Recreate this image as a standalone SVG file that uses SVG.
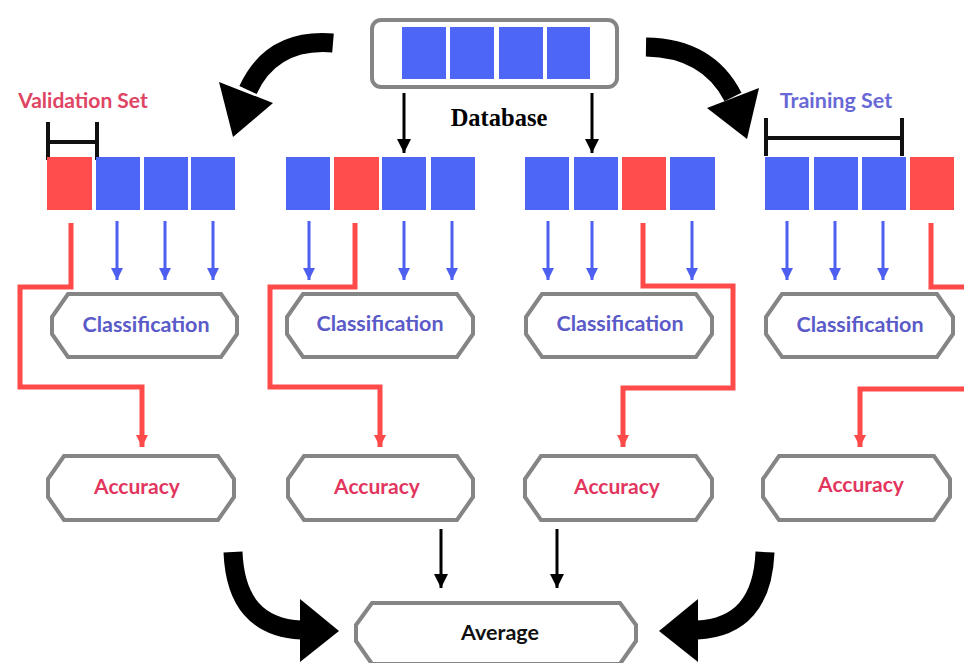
<svg xmlns="http://www.w3.org/2000/svg" width="964" height="663" viewBox="0 0 964 663">
<defs>
<style>
.blue{fill:#4d66f5}
.red{fill:#ff4d4d}
.box{fill:#fff;stroke:#858585;stroke-width:4}
.cls{font-family:Lato,"Noto Sans",sans-serif;font-size:21.5px;font-weight:bold;fill:#5a5ac8;text-anchor:middle}
.acc{font-family:Lato,"Noto Sans",sans-serif;font-size:21px;font-weight:bold;fill:#e2365e;text-anchor:middle}
.barr{stroke:#4d5ff0;stroke-width:3;fill:none}
.rline{stroke:#ff4a4a;stroke-width:5;fill:none}
.kline{stroke:#000;stroke-width:3;fill:none}
.big{stroke:#000;stroke-width:19;fill:none}
</style>
<marker id="mb" markerUnits="userSpaceOnUse" markerWidth="14" markerHeight="14" refX="12" refY="7" orient="auto" viewBox="0 0 14 14"><path d="M0 1 L12 7 L0 13 Z" fill="#4d5ff0"/></marker>
<marker id="mr" markerUnits="userSpaceOnUse" markerWidth="14" markerHeight="14" refX="12" refY="7" orient="auto" viewBox="0 0 14 14"><path d="M0 1 L12 7 L0 13 Z" fill="#ff4a4a"/></marker>
<marker id="mk" markerUnits="userSpaceOnUse" markerWidth="16" markerHeight="16" refX="14" refY="8" orient="auto" viewBox="0 0 16 16"><path d="M0 1 L14 8 L0 15 Z" fill="#000"/></marker>
</defs>
<rect width="964" height="663" fill="#fff"/>

<g id="database">
<rect x="372" y="20" width="245" height="67" rx="9" class="box"/>
<rect x="402" y="27" width="44" height="52" class="blue"/>
<rect x="450" y="27" width="44" height="52" class="blue"/>
<rect x="499" y="27" width="44" height="52" class="blue"/>
<rect x="547" y="27" width="43" height="52" class="blue"/>
<text x="499" y="126" font-family="'Liberation Serif',serif" font-weight="bold" font-size="24.5" text-anchor="middle" fill="#000">Database</text>
</g>

<g id="validation-label">
<text x="83" y="108" font-family="Lato,'Noto Sans',sans-serif" font-size="21" font-weight="bold" fill="#e04463" text-anchor="middle">Validation Set</text>
<path d="M48 122 V160 M97 122 V160 M48 142 H97" stroke="#111" stroke-width="4" fill="none"/>
</g>
<g id="training-label">
<text x="836" y="108" font-family="Lato,'Noto Sans',sans-serif" font-size="21.5" font-weight="bold" fill="#6868d6" text-anchor="middle">Training Set</text>
<path d="M766 118 V156 M902 118 V156 M766 138 H902" stroke="#111" stroke-width="4" fill="none"/>
</g>

<g id="fold1">
<rect x="47" y="157" width="45" height="53" class="red"/>
<rect x="96" y="157" width="44" height="53" class="blue"/>
<rect x="144" y="157" width="44" height="53" class="blue"/>
<rect x="191" y="157" width="44" height="53" class="blue"/>
</g>
<g id="fold2">
<rect x="286" y="157" width="44" height="53" class="blue"/>
<rect x="334" y="157" width="45" height="53" class="red"/>
<rect x="382" y="157" width="44" height="53" class="blue"/>
<rect x="431" y="157" width="44" height="53" class="blue"/>
</g>
<g id="fold3">
<rect x="525" y="157" width="44" height="53" class="blue"/>
<rect x="574" y="157" width="44" height="53" class="blue"/>
<rect x="622" y="157" width="44" height="53" class="red"/>
<rect x="670" y="157" width="45" height="53" class="blue"/>
</g>
<g id="fold4">
<rect x="765" y="157" width="44" height="53" class="blue"/>
<rect x="814" y="157" width="44" height="53" class="blue"/>
<rect x="862" y="157" width="44" height="53" class="blue"/>
<rect x="910" y="157" width="44" height="53" class="red"/>
</g>

<g id="classification1"><path d="M68 294 H221 L237 317 V334 L221 357 H68 L52 334 V317 Z" class="box"/><text x="146" y="332" class="cls">Classification</text></g>
<g id="classification2"><path d="M303 294 H457 L473 317 V334 L457 357 H303 L287 334 V317 Z" class="box"/><text x="380" y="331" class="cls">Classification</text></g>
<g id="classification3"><path d="M542 294 H696 L712 317 V334 L696 357 H542 L526 334 V317 Z" class="box"/><text x="620" y="331" class="cls">Classification</text></g>
<g id="classification4"><path d="M782 294 H937 L953 317 V334 L937 357 H782 L766 334 V317 Z" class="box"/><text x="860" y="332" class="cls">Classification</text></g>

<g id="accuracy1"><path d="M64 456 H218 L234 479 V497 L218 520 H64 L48 497 V479 Z" class="box"/><text x="137" y="494" class="acc">Accuracy</text></g>
<g id="accuracy2"><path d="M304 456 H457 L473 479 V497 L457 520 H304 L288 497 V479 Z" class="box"/><text x="377" y="494" class="acc">Accuracy</text></g>
<g id="accuracy3"><path d="M541 456 H696 L712 479 V497 L696 520 H541 L525 497 V479 Z" class="box"/><text x="617" y="494" class="acc">Accuracy</text></g>
<g id="accuracy4"><path d="M779 456 H934 L950 479 V497 L934 520 H779 L763 497 V479 Z" class="box"/><text x="861" y="492" class="acc">Accuracy</text></g>

<g id="average"><path d="M372 603 H620 L636 625 V641 L620 664 H372 L356 641 V625 Z" class="box"/><text x="500" y="640" font-family="Lato,'Noto Sans',sans-serif" font-size="21.5" font-weight="bold" fill="#111" text-anchor="middle">Average</text></g>

<g id="connectors">
<line x1="404" y1="93" x2="404" y2="153" class="kline" marker-end="url(#mk)"/>
<line x1="592" y1="93" x2="592" y2="153" class="kline" marker-end="url(#mk)"/>

<line x1="117" y1="221" x2="117" y2="280" class="barr" marker-end="url(#mb)"/>
<line x1="165" y1="221" x2="165" y2="280" class="barr" marker-end="url(#mb)"/>
<line x1="213" y1="221" x2="213" y2="280" class="barr" marker-end="url(#mb)"/>
<line x1="309" y1="221" x2="309" y2="280" class="barr" marker-end="url(#mb)"/>
<line x1="404" y1="221" x2="404" y2="280" class="barr" marker-end="url(#mb)"/>
<line x1="452" y1="221" x2="452" y2="280" class="barr" marker-end="url(#mb)"/>
<line x1="548" y1="221" x2="548" y2="280" class="barr" marker-end="url(#mb)"/>
<line x1="592" y1="221" x2="592" y2="280" class="barr" marker-end="url(#mb)"/>
<line x1="692" y1="221" x2="692" y2="280" class="barr" marker-end="url(#mb)"/>
<line x1="787" y1="221" x2="787" y2="280" class="barr" marker-end="url(#mb)"/>
<line x1="835" y1="221" x2="835" y2="280" class="barr" marker-end="url(#mb)"/>
<line x1="883" y1="221" x2="883" y2="280" class="barr" marker-end="url(#mb)"/>

<polyline points="71,223 71,287 20,287 20,387 142,387 142,447" class="rline" marker-end="url(#mr)"/>
<polyline points="355,223 355,287 270,287 270,387 380,387 380,447" class="rline" marker-end="url(#mr)"/>
<polyline points="643,223 643,286 733,286 733,388 623,388 623,447" class="rline" marker-end="url(#mr)"/>
<polyline points="931,223 931,287 970,287" class="rline"/>
<polyline points="970,389 860,389 860,447" class="rline" marker-end="url(#mr)"/>

<line x1="441" y1="529" x2="441" y2="588" class="kline" marker-end="url(#mk)"/>
<line x1="557" y1="529" x2="557" y2="588" class="kline" marker-end="url(#mk)"/>

<path d="M333 43 Q272 38 248 90" class="big"/>
<polygon points="219,82 273,103 233,137" fill="#000"/>
<path d="M646 47 Q708 48 733 97" class="big"/>
<polygon points="707,108 759,88 747,139" fill="#000"/>
<path d="M233 552 Q236 627 301 630" class="big"/>
<polygon points="300,599 300,662 339,631" fill="#000"/>
<path d="M765 552 Q762 627 697 630" class="big"/>
<polygon points="698,599 698,662 659,631" fill="#000"/>
</g>
</svg>
